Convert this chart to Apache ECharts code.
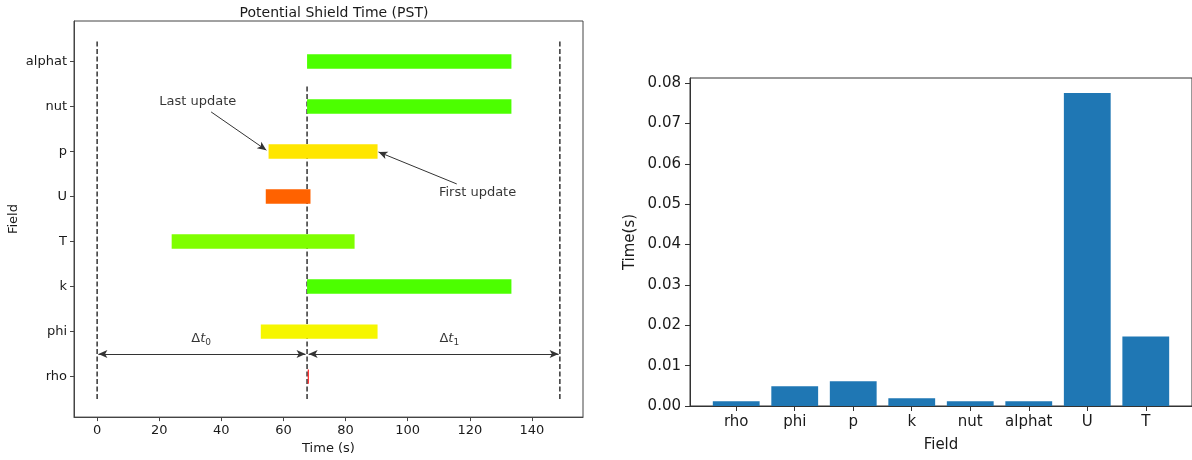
<!DOCTYPE html>
<html>
<head>
<meta charset="utf-8">
<script src="https://cdn.jsdelivr.net/npm/echarts@6/dist/echarts.min.js"></script>
<style>
html, body { margin: 0; padding: 0; background: #fff; }
#chart { width: 1192px; height: 460px; }
</style>
</head>
<body>
<div id="chart"></div>
<script>
// left panel: potential shield window of each field, listed bottom to top
var pstFields = ['rho', 'phi', 'k', 'T', 'U', 'p', 'nut', 'alphat'];
var pstStart = [67.8, 52.7, 67.6, 24.0, 54.3, 55.2, 67.6, 67.6];
var pstEnd = [68.2, 90.3, 133.4, 82.9, 68.7, 90.3, 133.4, 133.4];
var pstColors = ['#ff2a2a', '#f6f600', '#4cff00', '#7fff00', '#ff6200', '#ffe600', '#4cff00', '#4cff00'];
var timeTicks = [0, 20, 40, 60, 80, 100, 120, 140];
var updateTimes = [0, 67.6, 149];

// right panel: time per field
var fields = ['rho', 'phi', 'p', 'k', 'nut', 'alphat', 'U', 'T'];
var fieldTime = [0.0012, 0.0049, 0.0061, 0.0019, 0.0012, 0.0012, 0.0775, 0.0172];
var timeSTicks = [0, 0.01, 0.02, 0.03, 0.04, 0.05, 0.06, 0.07, 0.08];

var FONT = 'DejaVu Sans';
var INK = '#1a1a1a';

var fieldIdx = pstFields.map(function (f, i) { return i; });
var barIdx = fields.map(function (f, i) { return i; });

var pstData = pstFields.map(function (f, i) {
	return [pstStart[i], pstEnd[i], i];
});
var timeData = fields.map(function (f, i) {
	return [i, fieldTime[i]];
});

function shieldBar(params, api) {
	var y = api.value(2);
	var p0 = api.coord([api.value(0), y]);
	var p1 = api.coord([api.value(1), y]);
	var h = api.size([0, 0.32])[1];
	return {
		type: 'rect',
		shape: { x: p0[0], y: p0[1] - h / 2, width: Math.max(p1[0] - p0[0], 1.2), height: h },
		style: { fill: pstColors[params.dataIndex] }
	};
}

function timeBar(params, api) {
	var i = api.value(0);
	var a = api.coord([i - 0.4, api.value(1)]);
	var b = api.coord([i + 0.4, 0]);
	return {
		type: 'rect',
		shape: { x: a[0], y: a[1], width: b[0] - a[0], height: b[1] - a[1] },
		style: { fill: '#1f77b4' }
	};
}

// dashed vertical lines, outer ones span all rows, middle one stops below alphat
var dashLines = updateTimes.map(function (t, i) {
	var top = (i == 1) ? 6.5 : 7.5;
	return {
		type: 'line', xAxisIndex: 0, yAxisIndex: 0, z: 2,
		data: [[t, -0.5], [t, top]],
		symbol: 'none', silent: true,
		lineStyle: { color: '#333', width: 1.5, type: [5, 2.5] }
	};
});

var arrowStyle = { color: '#333', width: 1, type: 'solid' };
dashLines[0].markLine = {
	silent: true, animation: false,
	symbol: ['none', 'arrow'], symbolSize: [6, 9],
	label: { show: false },
	lineStyle: arrowStyle,
	data: [
		[{ coord: [36.7, 5.88] }, { coord: [54.5, 5.03] }],
		[{ coord: [115.8, 4.28] }, { coord: [90.6, 4.99] }],
		[{ coord: [0.4, 0.5], symbol: 'arrow' }, { coord: [67.1, 0.5] }],
		[{ coord: [68.1, 0.5], symbol: 'arrow' }, { coord: [148.6, 0.5] }]
	]
};

var notes = [
	[32.4, 6.1, 'Last update'],
	[122.5, 4.09, 'First update'],
	[33.5, 0.85, '{d|Δ}{t|t}{s|0}'],
	[113.4, 0.85, '{d|Δ}{t|t}{s|1}']
];

function axisCommon(color) {
	return {
		axisLine: { show: true, onZero: false, lineStyle: { color: color } },
		splitLine: { show: false }
	};
}

var option = {
	animation: false,
	textStyle: { fontFamily: FONT, color: INK },
	title: {
		text: 'Potential Shield Time (PST)',
		left: 329, top: 1, textAlign: 'center',
		textStyle: { fontFamily: FONT, fontSize: 14, fontWeight: 'normal', color: INK }
	},
	grid: [
		{ left: 74, top: 21, width: 509, height: 398, show: true, borderColor: '#444', borderWidth: 1, backgroundColor: 'transparent' },
		{ left: 690, top: 78, width: 504, height: 328, show: true, borderColor: '#333', borderWidth: 1, backgroundColor: 'transparent' }
	],
	xAxis: [
		Object.assign(axisCommon('#444'), {
			type: 'value', gridIndex: 0, min: -7.45, max: 156.45,
			name: 'Time (s)', nameLocation: 'middle', nameGap: 24,
			nameTextStyle: { fontFamily: FONT, fontSize: 13, color: INK },
			axisTick: { show: true, length: 4, customValues: timeTicks, lineStyle: { color: '#444' } },
			axisLabel: { customValues: timeTicks, margin: 7, fontFamily: FONT, fontSize: 13, color: INK }
		}),
		Object.assign(axisCommon('#333'), {
			type: 'value', gridIndex: 1, min: -0.79, max: 7.79,
			name: 'Field', nameLocation: 'middle', nameGap: 32,
			nameTextStyle: { fontFamily: FONT, fontSize: 15, color: INK },
			axisTick: { show: true, length: 5, customValues: barIdx, lineStyle: { color: '#333' } },
			axisLabel: {
				customValues: barIdx, margin: 9, fontFamily: FONT, fontSize: 15, color: INK,
				formatter: function (v) { return fields[Math.round(v)]; }
			}
		})
	],
	yAxis: [
		Object.assign(axisCommon('#444'), {
			type: 'value', gridIndex: 0, min: -0.9, max: 7.9,
			name: 'Field', nameLocation: 'middle', nameGap: 54,
			nameTextStyle: { fontFamily: FONT, fontSize: 13, color: INK },
			axisTick: { show: true, length: 4, customValues: fieldIdx, lineStyle: { color: '#444' } },
			axisLabel: {
				customValues: fieldIdx, margin: 7, fontFamily: FONT, fontSize: 13, color: INK,
				formatter: function (v) { return pstFields[Math.round(v)]; }
			}
		}),
		Object.assign(axisCommon('#333'), {
			type: 'value', gridIndex: 1, min: 0, max: 0.08124,
			name: 'Time(s)', nameLocation: 'middle', nameGap: 52,
			nameTextStyle: { fontFamily: FONT, fontSize: 15, color: INK },
			axisTick: { show: true, length: 5, customValues: timeSTicks, lineStyle: { color: '#333' } },
			axisLabel: {
				customValues: timeSTicks, margin: 9, fontFamily: FONT, fontSize: 15, color: INK,
				formatter: function (v) { return v.toFixed(2); }
			}
		})
	],
	series: [
		{
			type: 'custom', xAxisIndex: 0, yAxisIndex: 0, z: 3,
			renderItem: shieldBar, data: pstData, silent: true
		},
		{
			type: 'custom', xAxisIndex: 1, yAxisIndex: 1,
			renderItem: timeBar, data: timeData, silent: true
		},
		{
			type: 'scatter', xAxisIndex: 0, yAxisIndex: 0, z: 4,
			symbolSize: 0, silent: true, data: notes,
			label: {
				show: true, position: 'inside',
				formatter: function (p) { return p.data[2]; },
				fontFamily: FONT, fontSize: 13, color: '#000',
				rich: {
					d: { fontFamily: FONT, fontSize: 13, color: '#000' },
					t: { fontFamily: FONT, fontSize: 13, fontStyle: 'italic', color: '#000' },
					s: { fontFamily: FONT, fontSize: 9, color: '#000', padding: [8, 0, 0, 0] }
				}
			}
		}
	].concat(dashLines)
};

var chart = echarts.init(document.getElementById('chart'));
chart.setOption(option);
</script>
</body>
</html>
